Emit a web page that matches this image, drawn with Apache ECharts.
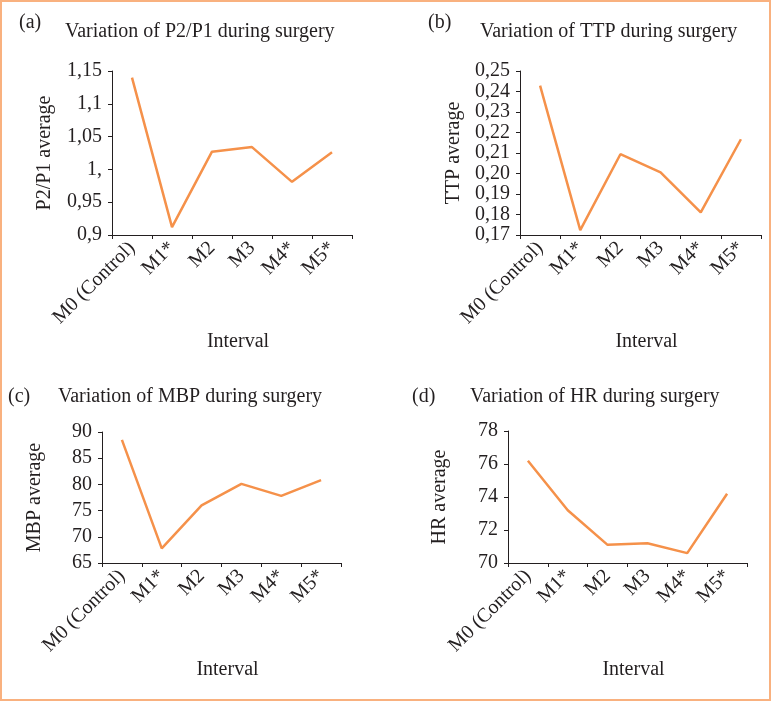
<!DOCTYPE html>
<html>
<head>
<meta charset="utf-8">
<title>Variation during surgery</title>
<script src="https://cdn.jsdelivr.net/npm/echarts@6/dist/echarts.min.js"></script>
<style>
  html, body { margin: 0; padding: 0; background: #fff; }
  #chart { width: 771px; height: 701px; }
</style>
</head>
<body>
<div id="chart"></div>
<script>
// categories shared by all four panels
const intervals = ["M0 (Control)", "M1*", "M2", "M3", "M4*", "M5*"];

// averages
const p2p1Values = [1.140, 0.912, 1.027, 1.034, 0.981, 1.026];
const ttpValues = [0.2429, 0.1724, 0.2094, 0.2006, 0.1810, 0.2167];
const mbpValues = [88.5, 67.8, 76.0, 80.1, 77.8, 80.8];
const hrValues = [76.2, 73.2, 71.1, 71.2, 70.6, 74.2];

// y tick labels as printed (comma decimals)
const p2p1Ticks = ["0,9", "0,95", "1,", "1,05", "1,1", "1,15"];
const ttpTicks = ["0,17", "0,18", "0,19", "0,20", "0,21", "0,22", "0,23", "0,24", "0,25"];
const mbpTicks = ["65", "70", "75", "80", "85", "90"];
const hrTicks = ["70", "72", "74", "76", "78"];

const serif = "Liberation Serif";
const ink = "#231f20";
const lineColor = "#f5914a";

const panels = [
  { tag: "(a)", title: "Variation of P2/P1 during surgery", yName: "P2/P1 average",
    data: p2p1Values, ticks: p2p1Ticks, min: 0.9, max: 1.15, interval: 0.05,
    grid: { left: 112, top: 71, width: 240, height: 164 },
    tagPos: [19, 13], titlePos: [65, 22], yGap: 57 },
  { tag: "(b)", title: "Variation of TTP during surgery", yName: "TTP average",
    data: ttpValues, ticks: ttpTicks, min: 0.17, max: 0.25, interval: 0.01,
    grid: { left: 520, top: 71, width: 241, height: 164 },
    tagPos: [428, 13], titlePos: [480, 22], yGap: 56 },
  { tag: "(c)", title: "Variation of MBP during surgery", yName: "MBP average",
    data: mbpValues, ticks: mbpTicks, min: 65, max: 90, interval: 5,
    grid: { left: 102, top: 432, width: 239, height: 131 },
    tagPos: [8, 387], titlePos: [58, 387], yGap: 57 },
  { tag: "(d)", title: "Variation of HR during surgery", yName: "HR average",
    data: hrValues, ticks: hrTicks, min: 70, max: 78, interval: 2,
    grid: { left: 508, top: 431, width: 239, height: 132 },
    tagPos: [412, 387], titlePos: [470, 387], yGap: 58 }
];

const chart = echarts.init(document.getElementById("chart"));

const axisLine = { show: true, lineStyle: { color: ink, width: 1 } };
const axisTick = { show: true, length: 4, lineStyle: { color: ink } };

let option = {
  backgroundColor: "#ffffff",
  animation: false,
  title: [],
  grid: [],
  xAxis: [],
  yAxis: [],
  series: [],
  graphic: [
    {
      type: "rect",
      shape: { x: 1, y: 1, width: 769, height: 699 },
      style: { fill: "none", stroke: "#f9b17f", lineWidth: 2 }
    }
  ]
};

panels.forEach((p, i) => {
  option.title.push({
    text: p.tag, left: p.tagPos[0], top: p.tagPos[1], padding: 0,
    textStyle: { fontFamily: serif, fontSize: 20, fontWeight: "normal", color: ink }
  });
  option.title.push({
    text: p.title, left: p.titlePos[0], top: p.titlePos[1], padding: 0,
    textStyle: { fontFamily: serif, fontSize: 20, fontWeight: "normal", color: ink }
  });
  option.grid.push(p.grid);
  option.xAxis.push({
    type: "category",
    gridIndex: i,
    data: intervals,
    boundaryGap: true,
    axisLine: axisLine,
    axisTick: axisTick,
    axisLabel: {
      rotate: 45, interval: 0, margin: 10,
      fontFamily: serif, fontSize: 20, color: ink
    },
    name: "Interval",
    nameLocation: "middle",
    nameGap: 97,
    nameTextStyle: { fontFamily: serif, fontSize: 20, color: ink, padding: [0, 0, 0, 12] }
  });
  option.yAxis.push({
    type: "value",
    gridIndex: i,
    min: p.min,
    max: p.max,
    interval: p.interval,
    splitLine: { show: false },
    axisLine: axisLine,
    axisTick: axisTick,
    axisLabel: {
      margin: 10, fontFamily: serif, fontSize: 20, color: ink,
      formatter: (v, idx) => p.ticks[idx]
    },
    name: p.yName,
    nameLocation: "middle",
    nameGap: p.yGap,
    nameTextStyle: { fontFamily: serif, fontSize: 20, color: ink }
  });
  option.series.push({
    type: "line",
    xAxisIndex: i,
    yAxisIndex: i,
    data: p.data,
    symbol: "none",
    smooth: false,
    lineStyle: { color: lineColor, width: 2.5 }
  });
});

option && chart.setOption(option);
</script>
</body>
</html>
